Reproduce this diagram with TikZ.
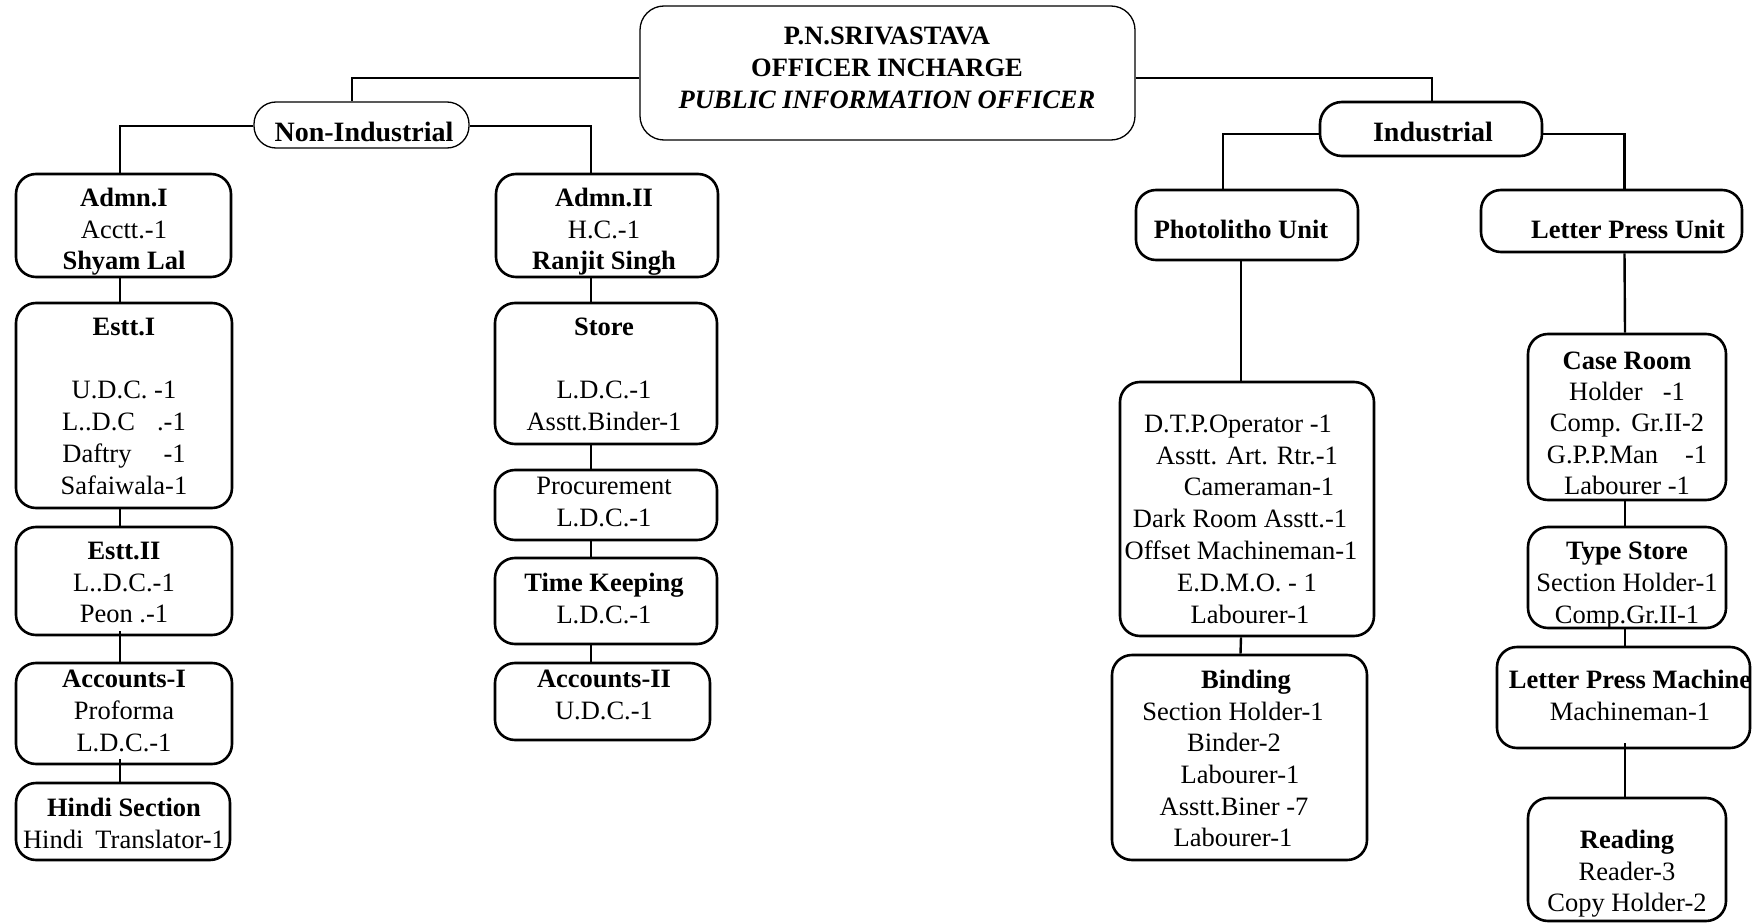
\documentclass[tikz,border=0pt]{standalone}
\usepackage{fontspec}
\setmainfont{Liberation Serif}
\newcommand\obox[6][]{%
  \node[box,#1,minimum width={(#5-#3)*1pt},minimum height={(#6-#4)*1pt}] (#2) at ({(#3+#5)/2},{(#4+#6)/2}) {};}
\begin{document}
\begin{tikzpicture}[x=1pt,y=-1pt,
  box/.style={draw,line width=2.6pt,rounded corners=20pt,inner sep=0pt},
  thinbox/.style={line width=1.3pt},
  txt/.style={align=center,inner sep=0pt,font=\fontsize{26.5}{31.8}\selectfont,
    execute at begin node=\strut,execute at end node=\strut},
  head/.style={align=center,inner sep=0pt,font=\fontsize{28}{34}\selectfont\bfseries,
    execute at begin node=\strut,execute at end node=\strut},
  conn/.style={line width=2.4pt}]
\path[use as bounding box,fill=white] (0,0) rectangle (1762,923);

% ---------- boxes ----------
\obox[thinbox,rounded corners=24pt]{top}{640}{6}{1135}{140}
\obox[thinbox,rounded corners=22pt]{nonind}{254}{102}{469}{148}
\obox[rounded corners=22pt]{ind}{1320}{102}{1542}{156}

\obox{admn1}{16}{174}{231}{277}
\obox{estt1}{16}{303}{232}{508}
\obox{estt2}{16}{527}{232}{635}
\obox{acc1}{16}{663}{232}{764}
\obox{hindi}{16}{783}{230}{860}

\obox{admn2}{496}{174}{718}{277}
\obox{store}{495}{303}{717}{444}
\obox{proc}{495}{470}{717}{540}
\obox{time}{495}{558}{717}{644}
\obox{acc2}{495}{663}{710}{740}

\obox{photo}{1136}{190}{1358}{260}
\obox{dtp}{1120}{382}{1374}{636}
\obox{binding}{1112}{655}{1367}{860}

\obox{lpu}{1481}{190}{1742}{252}
\obox{case}{1528}{334}{1726}{500}
\obox{type}{1528}{527}{1726}{628}
\obox{lpm}{1497}{647}{1750}{748}
\obox{reading}{1528}{798}{1726}{921}

% ---------- texts ----------
\node[txt,font=\fontsize{26.5}{32}\selectfont] (topt) at (887,72.6)
  {\textbf{P.N.SRIVASTAVA}\\\textbf{OFFICER INCHARGE}\\\textbf{\textit{PUBLIC INFORMATION OFFICER}}};
\node[head] (nonindt) at (364,134.5) {Non-Industrial};
\node[head] (indt) at (1433,134.5) {Industrial};

\node[txt] (admn1t) at (124,233.7) {\textbf{Admn.I}\\Acctt.-1\\\textbf{Shyam Lal}};
\node[txt] (estt1t) at (124,410.7) {\textbf{Estt.I}\\[31.8pt]U.D.C. -1\\L..D.C\hspace{22pt}.-1\\Daftry\hspace{32pt}-1\\Safaiwala-1};
\node[txt] (estt2t) at (124,587.2) {\textbf{Estt.II}\\L..D.C.-1\\Peon .-1};
\node[txt] (acc1t) at (124,715.7) {\textbf{Accounts-I}\\Proforma\\L.D.C.-1};
\node[txt] (hindit) at (124,827.7) {\textbf{Hindi Section}\\Hindi\hspace{12pt}Translator-1};

\node[txt] (admn2t) at (604,233.7) {\textbf{Admn.II}\\H.C.-1\\\textbf{Ranjit Singh}};
\node[txt] (storet) at (604,378.7) {\textbf{Store}\\[31.8pt]L.D.C.-1\\Asstt.Binder-1};
\node[txt] (proct) at (604,506.7) {Procurement\\L.D.C.-1};
\node[txt] (timet) at (604,603.2) {\textbf{Time Keeping}\\L.D.C.-1};
\node[txt] (acc2t) at (604,699.7) {\textbf{Accounts-II}\\U.D.C.-1};

\node[txt] (photot) at (1241,232.2) {\textbf{Photolitho Unit}};
\node[txt] (dtpt) at (1247,523.7) {\hspace*{-18pt}D.T.P.Operator -1\\Asstt. Art. Rtr.-1\\\hspace*{24pt}Cameraman-1\\\hspace*{-14pt}Dark Room Asstt.-1\\\hspace*{-12pt}Offset Machineman-1\\E.D.M.O. - 1\\\hspace*{6pt}Labourer-1};
\node[txt,font=\fontsize{26.5}{31.6}\selectfont] (bindingt) at (1240,763.2) {\hspace*{12pt}\textbf{Binding}\\\hspace*{-14pt}Section Holder-1\\\hspace*{-12pt}Binder-2\\Labourer-1\\\hspace*{-12pt}Asstt.Biner -7\\\hspace*{-14pt}Labourer-1};

\node[txt] (lput) at (1628,232.2) {\textbf{Letter Press Unit}};
\node[txt,font=\fontsize{26.5}{31.3}\selectfont] (caset) at (1627,427.7) {\textbf{Case Room}\\Holder\hspace{20pt}-1\\Comp.\hspace{10pt}Gr.II-2\\G.P.P.Man\hspace{27pt}-1\\Labourer -1};
\node[txt] (typet) at (1627,587.2) {\textbf{Type Store}\\Section Holder-1\\Comp.Gr.II-1};
\node[txt] (lpmt) at (1630,699.7) {\textbf{Letter Press Machine}\\Machineman-1};
\node[txt] (readingt) at (1627,875.7) {\textbf{Reading}\\Reader-3\\Copy Holder-2};

% ---------- connectors ----------
\draw[conn] ([yshift=-5pt]top.west) -| ([xshift=-9.5pt]nonind.north);
\draw[conn] ([yshift=-5pt]top.east) -| ([xshift=1pt]ind.north);

\draw[conn] ([yshift=-1pt]nonind.west) -| ([xshift=-3.5pt]admn1.north);
\draw[conn] ([yshift=-1pt]nonind.east) -| ([xshift=-16pt]admn2.north);
\draw[conn] ([yshift=-5pt]ind.west) -| ([xshift=-24pt]photo.north);
\draw[conn] ([yshift=-5pt]ind.east) -| ([xshift=13pt]lpu.north);

\draw[conn] ([xshift=-3.5pt]admn1.south) -- ([xshift=-4pt]estt1.north);
\draw[conn] ([xshift=-4pt]estt1.south) -- ([xshift=-4pt]estt2.north);
\draw[conn] ([xshift=-4pt,yshift=5pt]estt2.south) -- ([xshift=-4pt]acc1.north);
\draw[conn] ([xshift=-4pt,yshift=6pt]acc1.south) -- ([xshift=-3pt]hindi.north);

\draw[conn] ([xshift=-16pt]admn2.south) -- ([xshift=-15pt]store.north);
\draw[conn] ([xshift=-15pt]store.south) -- ([xshift=-15pt]proc.north);
\draw[conn] ([xshift=-15pt]proc.south) -- ([xshift=-15pt]time.north);
\draw[conn] ([xshift=-15pt]time.south) -- ([xshift=-11.5pt]acc2.north);

\draw[conn] ([xshift=-6pt]photo.south) -- ([xshift=-6pt]dtp.north);
\draw[conn] ([xshift=-6pt]dtp.south) -- ([xshift=1pt]binding.north);

\draw[conn] ([xshift=13pt]lpu.south) -- ([xshift=-2pt]case.north);
\draw[conn] ([xshift=-2pt]case.south) -- ([xshift=-2pt]type.north);
\draw[conn] ([xshift=-2pt]type.south) -- ([xshift=1.5pt]lpm.north);
\draw[conn] ([xshift=1.5pt,yshift=6pt]lpm.south) -- ([xshift=-2pt]reading.north);
\end{tikzpicture}
\end{document}
